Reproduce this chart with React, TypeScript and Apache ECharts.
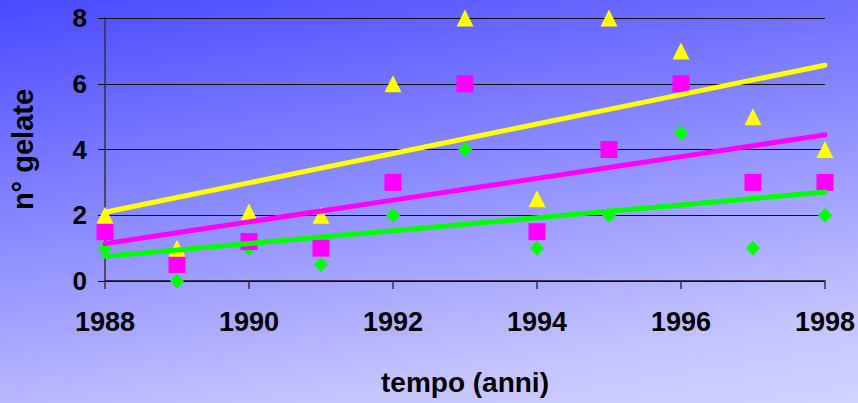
import React, { useEffect, useRef } from "react";
import * as echarts from "echarts";

const years = [1988, 1989, 1990, 1991, 1992, 1993, 1994, 1995, 1996, 1997, 1998];
const yellowValues = [2, 1, 2.1, 2, 6, 8, 2.5, 8, 7, 5, 4];
const magentaValues = [1.5, 0.5, 1.2, 1, 3, 6, 1.5, 4, 6, 3, 3];
const greenValues = [1, 0, 1, 0.5, 2, 4, 1, 2, 4.5, 1, 2];
const xTicks = [1988, 1990, 1992, 1994, 1996, 1998];
const yTicks = [0, 2, 4, 6, 8];

const YELLOW = "#FFFF00";
const MAGENTA = "#FF00FF";
const GREEN = "#00FF00";

function linearTrend(xs: number[], ys: number[]): number[][] {
  const n = xs.length;
  const mx = xs.reduce((a, b) => a + b, 0) / n;
  const my = ys.reduce((a, b) => a + b, 0) / n;
  let sxy = 0;
  let sxx = 0;
  for (let i = 0; i < n; i++) {
    sxy += (xs[i] - mx) * (ys[i] - my);
    sxx += (xs[i] - mx) * (xs[i] - mx);
  }
  const slope = sxy / sxx;
  const intercept = my - slope * mx;
  return xs.map((x) => [x, intercept + slope * x]);
}

const FONT = "'Liberation Sans', Arial, sans-serif";

export default function App() {
  const ref = useRef<HTMLDivElement>(null);
  useEffect(() => {
    if (!ref.current) return;
    const chart = echarts.init(ref.current, null, { renderer: "svg" });
    const pts = (vals: number[]) => years.map((y, i) => [y, vals[i]]);
    const scatter = (name: string, vals: number[], symbol: string, size: any, color: string) => ({
      name,
      type: "scatter",
      data: pts(vals),
      symbol,
      symbolSize: size,
      itemStyle: { color, opacity: 1 },
      z: 2,
    });
    const trend = (name: string, vals: number[], color: string) => ({
      name: name + " trend",
      type: "line",
      data: linearTrend(years, vals),
      showSymbol: false,
      symbol: "none",
      lineStyle: { color, width: 5, cap: "round" },
      z: 3,
    });
    chart.setOption({
      animation: false,
      backgroundColor: new echarts.graphic.LinearGradient(0, 0, 0.561, 1.669, [
        { offset: 0, color: "rgb(74,74,255)" },
        { offset: 0.4, color: "rgb(155,155,255)" },
        { offset: 0.6, color: "rgb(196,196,255)" },
        { offset: 1, color: "rgb(245,245,255)" },
      ]),
      grid: { left: 105, right: 33, top: 18, bottom: 122, containLabel: false },
      xAxis: {
        type: "value",
        min: xTicks[0],
        max: xTicks[xTicks.length - 1],
        interval: 2,
        name: "tempo (anni)",
        nameLocation: "middle",
        nameGap: 87,
        nameTextStyle: { fontFamily: FONT, fontWeight: "bold", fontSize: 28, color: "#000" },
        axisLine: { show: true, onZero: false, lineStyle: { color: "#111", width: 1.5 } },
        axisTick: { show: true, length: 8, lineStyle: { color: "#333", width: 1.5 } },
        axisLabel: {
          fontFamily: FONT,
          fontWeight: "bold",
          fontSize: 27,
          color: "#000",
          margin: 27,
          formatter: (v: number) => String(v),
        },
        splitLine: { show: false },
      },
      yAxis: {
        type: "value",
        min: yTicks[0],
        max: yTicks[yTicks.length - 1],
        interval: 2,
        name: "n° gelate",
        nameLocation: "middle",
        nameRotate: 90,
        nameGap: 68,
        nameTextStyle: { fontFamily: FONT, fontWeight: "bold", fontSize: 29, color: "#000" },
        axisLine: { show: true, lineStyle: { color: "#333", width: 1.5 } },
        axisTick: { show: true, length: 7, lineStyle: { color: "#111", width: 1 } },
        axisLabel: {
          fontFamily: FONT,
          fontWeight: "bold",
          fontSize: 26,
          color: "#000",
          margin: 18,
          formatter: (v: number) => String(v),
        },
        splitLine: { show: true, lineStyle: { color: "#111", width: 1 } },
      },
      series: [
        scatter("verde", greenValues, "diamond", [14, 15], GREEN),
        scatter("magenta", magentaValues, "rect", [17, 17], MAGENTA),
        scatter("giallo", yellowValues, "triangle", [17, 17], YELLOW),
        trend("verde", greenValues, GREEN),
        trend("magenta", magentaValues, MAGENTA),
        trend("giallo", yellowValues, YELLOW),
      ],
    });
    return () => chart.dispose();
  }, []);
  return (
    <div
      ref={ref}
      style={{ position: "absolute", left: 0, top: 0, width: 858, height: 403 }}
    />
  );
}
